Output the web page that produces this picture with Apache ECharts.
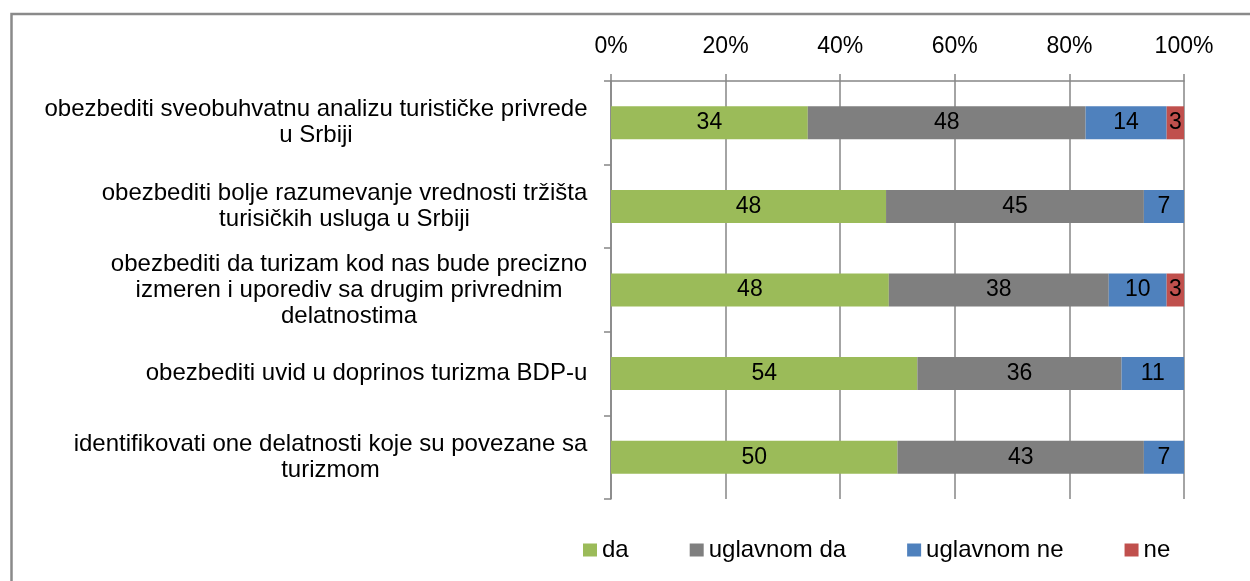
<!DOCTYPE html>
<html>
<head>
<meta charset="utf-8">
<script src="https://cdn.jsdelivr.net/npm/echarts@6/dist/echarts.min.js"></script>
<style>
  html, body { margin: 0; padding: 0; background: #fff; }
  #main { width: 1250px; height: 581px; }
</style>
</head>
<body>
<div id="main"></div>
<script>
// pitanja (kategorije)
var categories = [
    'obezbediti sveobuhvatnu analizu turističke privrede\nu Srbiji',
    'obezbediti bolje razumevanje vrednosti tržišta\nturisičkih usluga u Srbiji',
    'obezbediti da turizam kod nas bude precizno\nizmeren i uporediv sa drugim privrednim\ndelatnostima',
    'obezbediti uvid u doprinos turizma BDP-u',
    'identifikovati one delatnosti koje su povezane sa\nturizmom'
];
var seriesNames = ['da', 'uglavnom da', 'uglavnom ne', 'ne'];
var da = [34, 48, 48, 54, 50];
var uglavnomDa = [48, 45, 38, 36, 43];
var uglavnomNe = [14, 7, 10, 11, 7];
var ne = [3, 0, 3, 0, 0];
var xTicks = [0, 20, 40, 60, 80, 100];

var colors = ['#9BBB59', '#7F7F7F', '#4F81BD', '#C0504D'];
var raw = [da, uglavnomDa, uglavnomNe, ne];
var FONT = '"Liberation Sans", Arial, sans-serif';
var FS = 24;

// 100% stacked: normalize every row to its own sum
var sums = da.map(function (v, i) { return da[i] + uglavnomDa[i] + uglavnomNe[i] + ne[i]; });

// measure text so the lines of each label are centered inside a right-aligned block
var ctx = document.createElement('canvas').getContext('2d');
ctx.font = FS + 'px ' + FONT;
var rich = {};
categories.forEach(function (c, i) {
    var w = 0;
    c.split('\n').forEach(function (l) { w = Math.max(w, ctx.measureText(l).width); });
    rich['c' + i] = { width: Math.ceil(w) + 1, align: 'center', fontSize: FS, lineHeight: 26, color: '#000', fontFamily: FONT };
});

var myChart = echarts.init(document.getElementById('main'));

var series = raw.map(function (arr, k) {
    return {
        name: seriesNames[k],
        type: 'bar',
        stack: 'total',
        barWidth: 33,
        itemStyle: { color: colors[k] },
        label: {
            show: true,
            position: 'inside',
            color: '#000',
            fontSize: 23,
            fontFamily: FONT,
            formatter: function (p) { return arr[p.dataIndex] ? String(arr[p.dataIndex]) : ''; }
        },
        data: arr.map(function (v, i) { return v / sums[i] * 100; })
    };
});

var option = {
    backgroundColor: '#fff',
    animation: false,
    color: colors,
    textStyle: { fontFamily: FONT },
    graphic: [{
        type: 'rect',
        shape: { x: 11.5, y: 14, width: 1260, height: 620 },
        style: { fill: 'none', stroke: '#8a8a8a', lineWidth: 2.5 },
        silent: true
    }],
    legend: {
        data: seriesNames,
        left: 578,
        top: 533,
        icon: 'rect',
        itemWidth: 14,
        itemHeight: 13,
        itemGap: 61,
        textStyle: { fontSize: FS, color: '#000', fontFamily: FONT }
    },
    grid: { left: 611, right: 66, top: 81, bottom: 82 },
    xAxis: {
        type: 'value',
        position: 'top',
        min: 0,
        max: 100,
        interval: 20,
        axisLine: { show: true, lineStyle: { color: '#868686', width: 1.5 } },
        axisTick: { show: true, length: 7, lineStyle: { color: '#868686', width: 1.5 } },
        splitLine: { show: true, lineStyle: { color: '#868686', width: 1.5 } },
        axisLabel: {
            margin: 23,
            fontSize: 23,
            color: '#000',
            fontFamily: FONT,
            customValues: xTicks,
            formatter: '{value}%'
        }
    },
    yAxis: {
        type: 'category',
        inverse: true,
        data: categories,
        axisLine: { show: true, lineStyle: { color: '#868686', width: 1.5 } },
        axisTick: { show: true, length: 7, lineStyle: { color: '#868686', width: 1.5 } },
        splitLine: { show: false },
        axisLabel: {
            margin: 23,
            formatter: function (v, i) {
                return v.split('\n').map(function (l) { return '{c' + i + '|' + l + '}'; }).join('\n');
            },
            rich: rich
        }
    },
    series: series
};

myChart.setOption(option);
</script>
</body>
</html>
